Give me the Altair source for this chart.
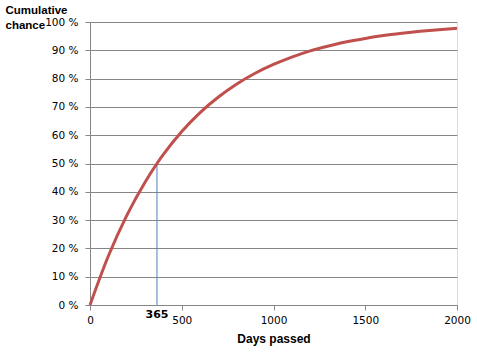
import altair as alt
import pandas as pd

days = [0, 100, 200, 300, 365, 400, 500, 600, 700, 800, 900, 1000, 1100, 1200,
        1300, 1400, 1500, 1600, 1700, 1800, 1900, 2000]
chance = [0.0, 0.173, 0.316, 0.434, 0.5, 0.532, 0.613, 0.680, 0.735, 0.781, 0.819,
          0.850, 0.876, 0.898, 0.915, 0.930, 0.942, 0.952, 0.960, 0.967, 0.973, 0.978]
marker_day = [365]
marker_chance = [0.5]
x_ticks = [0, 500, 1000, 1500, 2000]
y_ticks = [i / 10 for i in range(11)]

df = pd.DataFrame({"days": days, "chance": chance})
mk = pd.DataFrame({"days": marker_day, "chance": marker_chance, "zero": [0.0],
                   "label": [str(d) for d in marker_day]})

FONT = "DejaVu Sans"
TFONT = "Liberation Sans"
GRID = "#868686"

xs = alt.Scale(domain=[0, 2000], nice=False)
ys = alt.Scale(domain=[0, 1], nice=False)

x_axis = alt.Axis(values=x_ticks, grid=False, title="Days passed", format="d",
                  titleFont=TFONT, titleFontSize=12, titleFontWeight="bold",
                  titleColor="black", titlePadding=8,
                  labelFont=FONT, labelFontSize=10.5, labelColor="black",
                  labelPadding=5, tickSize=5, tickColor=GRID,
                  domainColor=GRID, labelFlush=False, labelOverlap=False)
y_axis = alt.Axis(values=y_ticks, grid=True, gridColor=GRID,
                  title=["Cumulative", "chance"], titleAngle=0,
                  titleAlign="left", titleBaseline="top",
                  titleX=-85, titleY=-18,
                  titleFont=TFONT, titleFontSize=11.5, titleFontWeight="bold",
                  titleColor="black", titleLineHeight=15,
                  labelExpr="format(datum.value*100, 'd') + ' %'",
                  labelFont=FONT, labelFontSize=10.5, labelColor="black",
                  labelPadding=7, tickSize=5, tickColor=GRID,
                  domainColor=GRID, labelOverlap=False)

vline = alt.Chart(mk).mark_rule(color="#4F81BD", strokeWidth=1).encode(
    x=alt.X("days:Q", scale=xs, axis=x_axis),
    y=alt.Y("zero:Q", scale=ys, axis=y_axis),
    y2="chance:Q",
)

line = alt.Chart(df).mark_line(color="#C0504D", strokeWidth=3, interpolate="monotone").encode(
    x=alt.X("days:Q", scale=xs, axis=x_axis),
    y=alt.Y("chance:Q", scale=ys, axis=y_axis),
)

lbl = alt.Chart(mk).mark_text(font=FONT, fontSize=11, fontWeight="bold",
                              color="black", dy=10, baseline="middle").encode(
    x=alt.X("days:Q", scale=xs, axis=x_axis),
    y=alt.Y("zero:Q", scale=ys, axis=y_axis),
    text="label:N",
)

chart = alt.layer(vline, line, lbl).properties(
    width=367, height=283,
    autosize=alt.AutoSizeParams(type="none"),
    padding={"left": 90, "top": 22, "right": 20, "bottom": 49},
).configure_view(stroke=None).configure(background="white")

chart.save("out.html", embed_options={"renderer": "svg", "actions": False})
